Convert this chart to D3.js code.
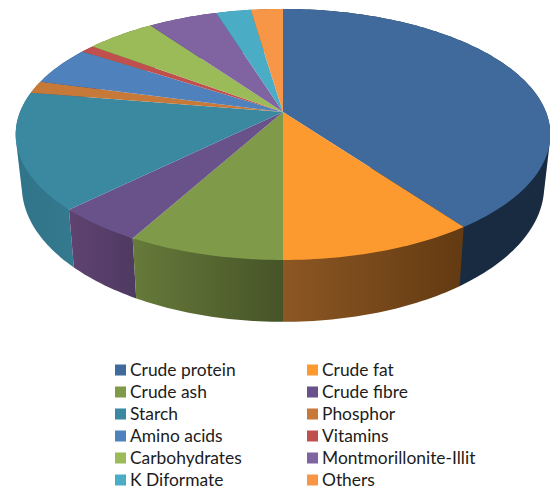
<!DOCTYPE html>
<html>
<head>
<meta charset="utf-8">
<script src="https://cdn.jsdelivr.net/npm/d3@7"></script>
<style>
  html, body { margin: 0; padding: 0; background: #fff; }
  svg { display: block; }
  text { font-family: Lato, "Open Sans", sans-serif; font-size: 17.4px; fill: #1c1c1c; }
</style>
</head>
<body>
<div id="chart"></div>
<script>
const labels = ["Crude protein", "Crude fat", "Crude ash", "Crude fibre", "Starch", "Phosphor",
  "Amino acids", "Vitamins", "Carbohydrates", "Montmorillonite-Illit", "K Diformate", "Others"];
const values = [40, 10, 8, 4.6, 15, 1.6, 5, 1, 5, 5, 2.5, 2.3];

const topColors = ["#3f6a9b", "#fd9a2f", "#7f9a48", "#69518a", "#3b88a1", "#c7793a",
  "#4f81bd", "#c0504d", "#9bbb59", "#8064a2", "#4bacc6", "#f79646"];
const sideLeft = ["#182b40", "#8c5723", "#667a3a", "#5f4372", "#2f7488", "#7a4a22",
  "#2f5075", "#7a3230", "#607538", "#503e66", "#2f6b7c", "#9a5d2b"];
const sideRight = ["#182b40", "#633a12", "#465428", "#4e3a60", "#35798e", "#7a4a22",
  "#2f5075", "#7a3230", "#607538", "#503e66", "#2f6b7c", "#9a5d2b"];

const width = 550, height = 489;

// ---- Perspective disc: top face and a lower, slightly narrower bottom face ----
const cx = 283, cy = 112;
const radiusX = 263, radiusY = 121.5, persp = 0.179;
const faces = {
  top: { y0: cy, sx: 1, sy: 1 },
  bottom: { y0: 162, sx: 0.977, sy: 1.08 }
};

function project(angle, face) {
  const u = Math.sin(angle), v = -Math.cos(angle);
  const k = 1 / (1 - persp * v);
  return [cx + radiusX * u * k * face.sx, face.y0 + radiusY * v * k * face.sy];
}

function arcPoints(a0, a1, face) {
  const n = Math.max(2, Math.ceil((a1 - a0) / 0.02));
  return d3.range(n + 1).map(i => project(a0 + (a1 - a0) * i / n, face));
}

const svg = d3.select("#chart").append("svg")
  .attr("width", width).attr("height", height);

const slices = d3.pie().sort(null)(values);
const line = d3.line().curve(d3.curveLinear);

// ---- Side gradients ----
const defs = svg.append("defs");
slices.forEach((d, i) => {
  const grad = defs.append("linearGradient").attr("id", "side" + i);
  grad.append("stop").attr("offset", "0%").attr("stop-color", sideLeft[i]);
  grad.append("stop").attr("offset", "100%").attr("stop-color", sideRight[i]);
});

// ---- Sides, back to front so the near walls win. Hull closes the silhouette at the extremes ----
const depthOrder = slices
  .map((d, i) => ({ ...d, i }))
  .sort((a, b) => -Math.cos((a.startAngle + a.endAngle) / 2) + Math.cos((b.startAngle + b.endAngle) / 2));

svg.append("g").selectAll("path")
  .data(depthOrder)
  .join("path")
  .attr("d", d => line(d3.polygonHull([
    ...arcPoints(d.startAngle, d.endAngle, faces.top),
    ...arcPoints(d.startAngle, d.endAngle, faces.bottom)
  ])) + "Z")
  .attr("fill", d => `url(#side${d.i})`);

// ---- Top face ----
svg.append("g").selectAll("path")
  .data(slices)
  .join("path")
  .attr("d", d => line([[cx, cy], ...arcPoints(d.startAngle, d.endAngle, faces.top)]) + "Z")
  .attr("fill", (d, i) => topColors[i]);

// ---- Legend ----
const rowY = d3.scalePoint().domain(d3.range(6)).range([370, 480]);
const colX = d3.scalePoint().domain([0, 1]).range([115, 307]);

const legend = svg.append("g").selectAll("g")
  .data(labels)
  .join("g")
  .attr("transform", (d, i) => `translate(${colX(i % 2)},${rowY(Math.floor(i / 2))})`);

legend.append("rect")
  .attr("x", 0).attr("y", -5.5)
  .attr("width", 11).attr("height", 11)
  .attr("fill", (d, i) => topColors[i]);

legend.append("text")
  .attr("x", 15).attr("y", 6)
  .text(d => d);
</script>
</body>
</html>
